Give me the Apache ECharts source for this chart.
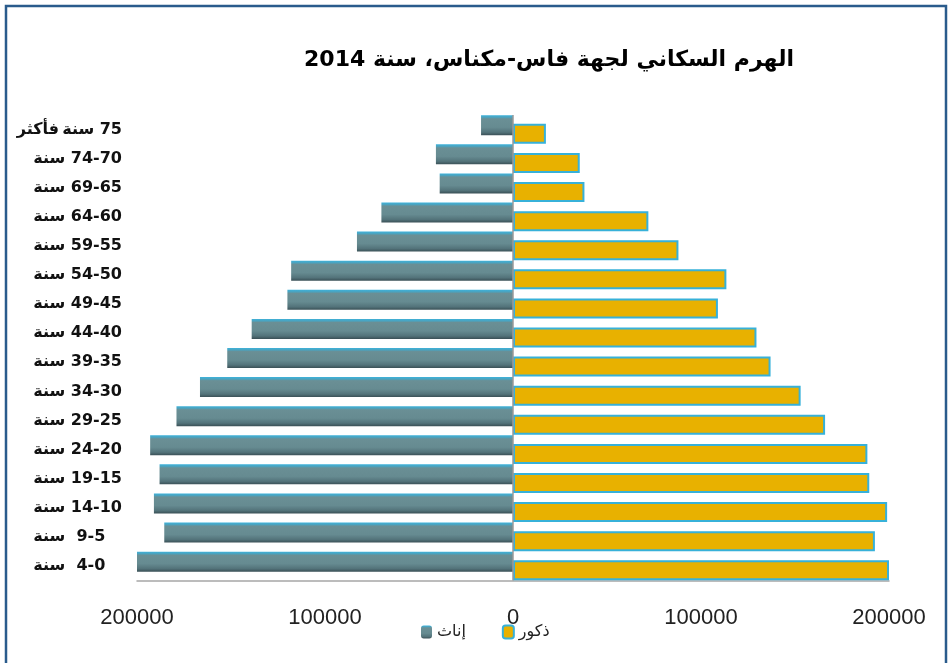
<!DOCTYPE html>
<html><head><meta charset="utf-8">
<script src="https://cdn.jsdelivr.net/npm/echarts@6/dist/echarts.min.js"></script>
<style>html,body{margin:0;padding:0;background:#fff}#c{width:952px;height:663px}</style>
</head><body><div id="c"></div>
<script>
const chartTitle = 'الهرم السكاني لجهة فاس-مكناس، سنة 2014';
const ageGroups = ['0-4 سنة','5-9 سنة','10-14 سنة','15-19 سنة','20-24 سنة','25-29 سنة','30-34 سنة','35-39 سنة','40-44 سنة','45-49 سنة','50-54 سنة','55-59 سنة','60-64 سنة','65-69 سنة','70-74 سنة','75 سنة فأكثر'];
const females = [200000,185500,191000,188000,193000,179000,166500,152000,139000,120000,118000,83000,70000,39000,41000,17000];
const males   = [200000,192500,199000,189500,188500,166000,153000,137000,129500,109000,113500,88000,72000,38000,35500,17500];
const seriesNames = ['إناث','ذكور'];
const axisMin = -200000, axisMax = 200000, axisStep = 100000;

function visualLabel(s){
  const m = s.match(/^(\d+)-(\d+) (.+)$/);
  if (m) {
    const short = m[2].length === 1;
    return m[3] + '\u200E' + (short ? '  ' : ' ') + m[2] + '-' + m[1] + (short ? '   ' : '');
  }
  const m2 = s.match(/^(\d+) (.+)$/);
  return m2[2].replace(' ', '\u2009') + '\u200E ' + m2[1];
}

const chart = echarts.init(document.getElementById('c'), null, {renderer:'canvas'});
const femaleFill = new echarts.graphic.LinearGradient(0,0,0,1,[
  {offset:0,color:'#3fb2da'},{offset:0.1,color:'#4aa3bf'},{offset:0.18,color:'#6a8f95'},
  {offset:0.6,color:'#668b91'},{offset:0.85,color:'#53737a'},{offset:1,color:'#3a5056'}]);

chart.setOption({
  animation:false,
  backgroundColor:'#ffffff',
  graphic:[
    {type:'rect', shape:{x:6,y:6,width:940,height:690}, style:{fill:'none',stroke:'#2a5b8c',lineWidth:2.5}, silent:true},
    {type:'text', x:549, y:60, style:{text:chartTitle, font:'bold 22px "DejaVu Sans"', fill:'#000', align:'center', verticalAlign:'middle'}}
  ],
  grid:{left:137,right:63,top:115,bottom:82.5,containLabel:false},
  legend:{
    data:seriesNames, left:416, top:619, itemWidth:11, itemHeight:13, itemGap:36,
    textStyle:{fontSize:16,color:'#222',fontFamily:'DejaVu Sans'}
  },
  xAxis:{
    type:'value', min:axisMin, max:axisMax, interval:axisStep,
    axisLine:{show:true,lineStyle:{color:'#a6a6a6',width:1.5}},
    axisTick:{show:false}, splitLine:{show:false},
    axisLabel:{margin:26,fontSize:22,color:'#222',fontFamily:'Liberation Sans',formatter:v=>String(Math.abs(v))}
  },
  yAxis:{
    type:'category', data:ageGroups,
    axisLine:{show:false,onZero:false}, axisTick:{show:false},
    axisLabel:{margin:15,fontSize:16,fontWeight:'bold',color:'#111',fontFamily:'DejaVu Sans',formatter:visualLabel}
  },
  series:[
    {name:seriesNames[0], type:'bar', data:females.map(v=>-v), barWidth:20, barGap:'-57%',
     itemStyle:{color:femaleFill}},
    {name:seriesNames[1], type:'bar', data:males, barWidth:20, barGap:'-57%',
     itemStyle:{color:'#e8b100',borderColor:'#37b1d9',borderWidth:2},
     markLine:{silent:true,symbol:['none','none'],label:{show:false},
       lineStyle:{color:'#9a9a9a',width:1.5,type:'solid'},data:[{xAxis:0}]}}
  ]
});
</script></body></html>
